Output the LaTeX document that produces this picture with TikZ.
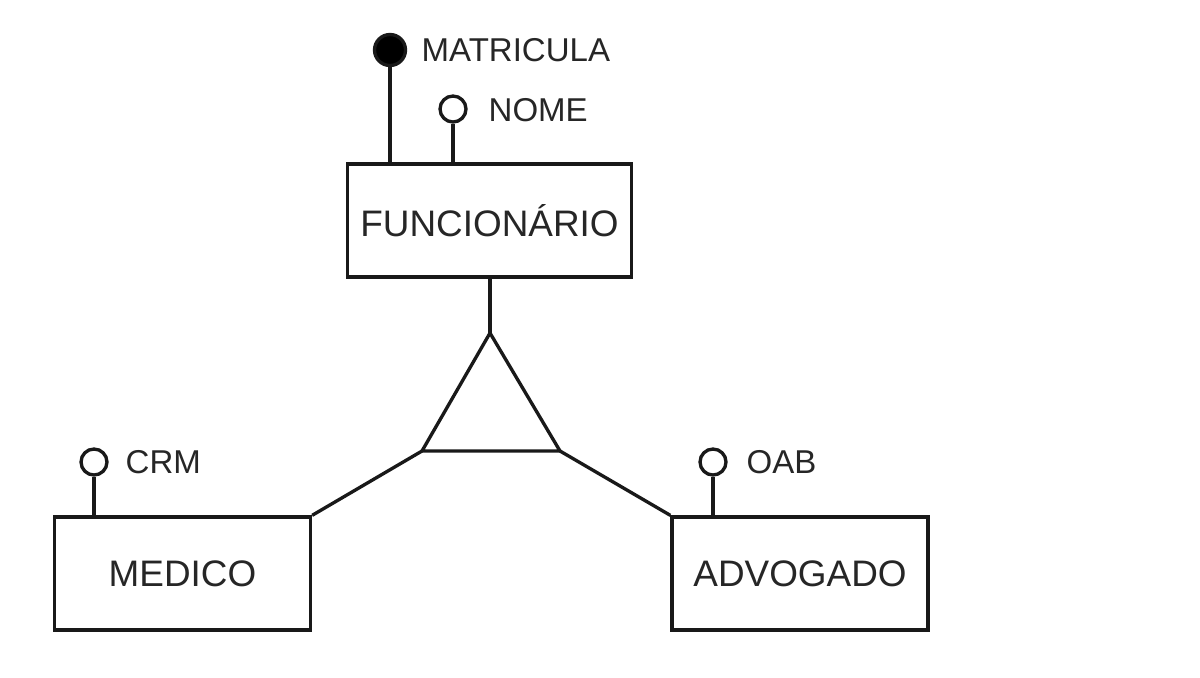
\documentclass[tikz,border=0pt]{standalone}
\usepackage{fontspec}
\setmainfont{Liberation Sans}
\begin{document}
\begin{tikzpicture}[x=0.02cm,y=-0.02cm,
  line width=1.9pt, draw=black!90,
  entity/.style={draw, rectangle, inner sep=0pt, minimum width=256*0.02cm, minimum height=113*0.02cm, font=\fontsize{21}{24}\selectfont, text=black!85},
  attr/.style={draw, circle, inner sep=0pt, minimum size=26*0.02cm},
  keyattr/.style={draw, fill=black, circle, inner sep=0pt, minimum size=31*0.02cm},
  lbl/.style={anchor=west, inner sep=0pt, font=\fontsize{18.8}{22}\selectfont, text=black!85}
]
\useasboundingbox (0,0) rectangle (1200,677);
% entities
\node[entity, minimum width=284*0.02cm] (func) at (489.5,220.5) {FUNCIONÁRIO};
\node[entity] (med) at (182.5,573.5) {MEDICO};
\node[entity] (adv) at (800,573.5) {ADVOGADO};
% attributes
\node[keyattr] (mat) at (390,50) {};
\node[lbl] (matl) at (420,50) {MATRICULA};
\node[attr] (nome) at (453,109) {};
\node[lbl] (nomel) at (487,110) {NOME};
\node[attr] (crm) at (94,462) {};
\node[lbl] (crml) at (124,462) {CRM};
\node[attr] (oab) at (713,462) {};
\node[lbl] (oabl) at (745,462) {OAB};
% attribute connectors
\draw (mat) -- (mat |- func.north);
\draw (nome) -- (nome |- func.north);
\draw (crm) -- (crm |- med.north);
\draw (oab) -- (oab |- adv.north);
% specialization triangle
\coordinate (apex) at (490,333);
\coordinate (bl) at (422,451);
\coordinate (br) at (560,451);
\draw[line join=miter] (apex) -- (bl) -- (br) -- cycle;
\draw (func.south -| apex) -- (apex);
\draw (bl) -- (med.north east);
\draw (br) -- (adv.north west);
\end{tikzpicture}
\end{document}
